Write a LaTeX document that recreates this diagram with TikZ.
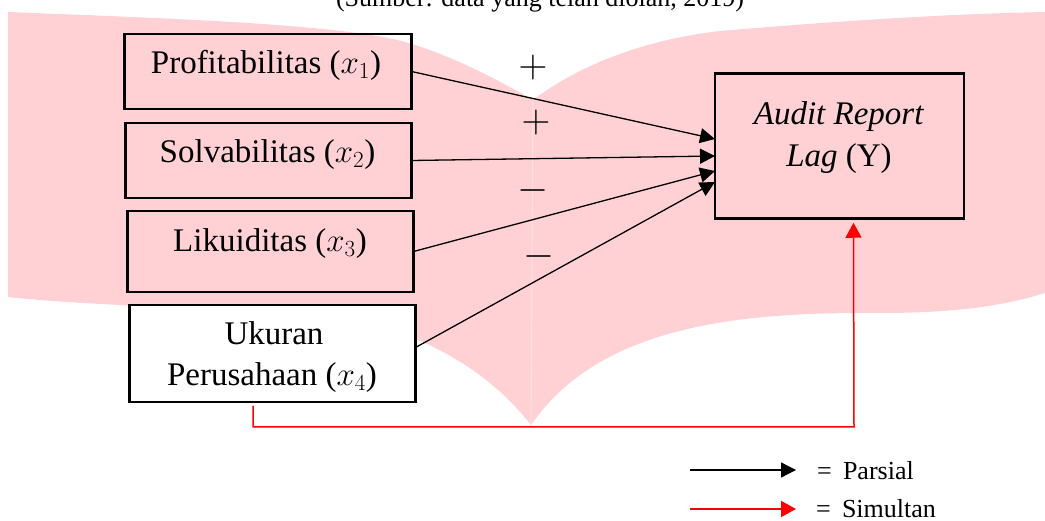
\RequirePackage{fix-cm}
\documentclass[tikz,border=0pt]{standalone}
\usepackage{fontspec}
\setmainfont{Liberation Serif}
\usetikzlibrary{arrows.meta,calc}
\definecolor{bookpink}{RGB}{255,209,212}
\definecolor{spinepink}{RGB}{255,224,226}
\begin{document}
\begin{tikzpicture}[x=1pt,y=-1pt,
  box/.style={draw=black, line width=2.6pt, inner sep=0pt, outer sep=0pt, rectangle},
  big/.style={font=\fontsize{33}{40}\selectfont, inner sep=0pt},
  small/.style={font=\fontsize{26}{32}\selectfont, inner sep=0pt},
  sign/.style={font=\fontsize{40}{48}\selectfont, inner sep=0pt},
  parr/.style={draw=black, line width=1.3pt, -{Triangle[length=15pt,width=15pt]}},
  sarr/.style={draw=red, line width=1.5pt, -{Triangle[length=15pt,width=16pt]}},
]
\useasboundingbox (0,0) rectangle (1045,521);
% background book shape
\fill[bookpink] (8,12) .. controls (130,17) and (300,22) .. (383,37)
  .. controls (430,45) and (490,75) .. (533,100)
  .. controls (575,68) and (640,40) .. (720,31)
  .. controls (850,20) and (950,14) .. (1045,12)
  -- (1045,293)
  .. controls (1000,307) and (950,313) .. (880,313)
  .. controls (740,312) and (600,325) .. (531,425)
  .. controls (480,360) and (400,320) .. (300,313)
  .. controls (200,308) and (80,305) .. (8,297) -- cycle;
\draw[spinepink, line width=1.2pt] (533,100) -- (531,425);
% title (cut off at top)
\node[small, anchor=base] (title) at (540,6.5) {(Sumber: data yang telah diolah, 2019)};
% boxes
\node[box, minimum width=287pt, minimum height=75pt] (p) at (268,71.5) {};
\node[box, minimum width=286pt, minimum height=75pt] (s) at (268.5,160.5) {};
\node[box, minimum width=286pt, minimum height=81pt] (l) at (270.5,251.5) {};
\node[box, fill=white, minimum width=286pt, minimum height=97pt] (u) at (272.5,353.5) {};
\node[box, minimum width=249pt, minimum height=145.5pt] (y) at (839.5,146) {};
% texts
\node[big, anchor=base] (pt) at (266,74) {Profitabilitas ($x_1$)};
\node[big, anchor=base] (st) at (267.5,163) {Solvabilitas ($x_2$)};
\node[big, anchor=base] (lt) at (270,252) {Likuiditas ($x_3$)};
\node[big, anchor=base] (ut1) at (274,345) {Ukuran};
\node[big, anchor=base] (ut2) at (272,386) {Perusahaan ($x_4$)};
\node[big, anchor=base] (yt1) at (839,125) {\textit{Audit Report}};
\node[big, anchor=base] (yt2) at (839,167) {\textit{Lag} (Y)};
% signs
\node[sign] (s1) at (533,68) {$+$};
\node[sign] (s2) at (536,123) {$+$};
\node[sign] (s3) at (533,191) {$-$};
\node[sign] (s4) at (539,257) {$-$};
% partial arrows
\draw[parr] (p.east) -- ($(y.west)+(0,-7)$);
\draw[parr] (s.east) -- ($(y.west)+(0,10)$);
\draw[parr] (l.east) -- ($(y.west)+(0,25)$);
\draw[parr] ($(u.east)+(0,-6)$) -- ($(y.west)+(0,36)$);
% simultaneous arrow
\coordinate (rs) at ($(u.south)+(-19.5,4)$);
\coordinate (rc) at (854,427);
\draw[sarr] (rs) |- (rc) -- ($(y.south)+(14,4)$);
% legend
\coordinate (lb1) at (690,470);
\coordinate (lb2) at (796,470);
\draw[parr] (lb1) -- (lb2);
\node[small, anchor=base west] (lp) at (817,479) {=\hspace{0.43em}Parsial};
\coordinate (lr1) at (690,509);
\coordinate (lr2) at (796,509);
\draw[sarr] (lr1) -- (lr2);
\node[small, anchor=base west] (ls) at (816,517) {=\hspace{0.43em}Simultan};
\end{tikzpicture}
\end{document}
